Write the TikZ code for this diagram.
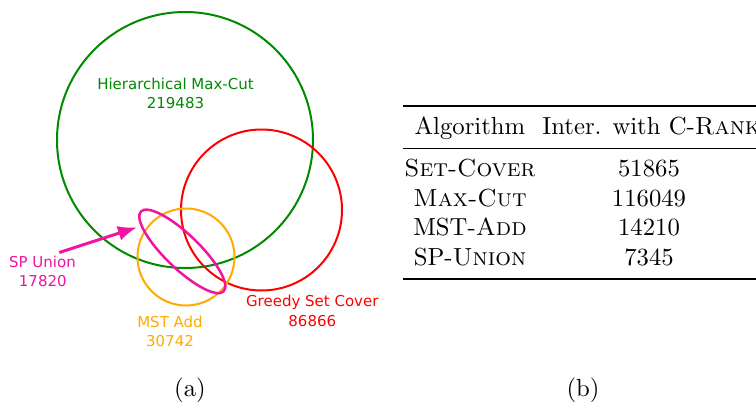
\documentclass[tikz,border=0pt]{standalone}
\usepackage{fontspec}
\newfontfamily\labfont{DejaVu Sans}
\usetikzlibrary{arrows.meta}
\definecolor{cgreen}{RGB}{0,138,0}
\definecolor{cred}{RGB}{255,0,0}
\definecolor{corange}{RGB}{255,170,0}
\definecolor{cmag}{RGB}{240,20,160}
\tikzset{
  setline/.style={line width=2pt},
  lab/.style={font=\labfont\fontsize{15}{19}\selectfont, inner sep=0pt, anchor=base},
  tab/.style={font=\fontsize{10}{12}\selectfont, scale=2.47, inner sep=0pt, anchor=base},
}
\begin{document}
\begin{tikzpicture}[x=1pt,y=-1pt]
\useasboundingbox (0,0) rectangle (756,402);
% sets
\draw[setline, cgreen] (185,140) circle (128pt);
\draw[setline, cred] (261.5,210) circle (80.5pt);
\draw[setline, corange] (186,257) circle (48.5pt);
\draw[line width=2.5pt, cmag] (182.3,251.4) ellipse [x radius=57.5pt, y radius=17pt, rotate=-44];
% labels
\node[lab, text=cgreen] (hmc1) at (175.5,89.5) {Hierarchical Max-Cut};
\node[lab, text=cgreen] (hmc2) at (175.5,108.7) {219483};
\node[lab, text=cmag] (spu1) at (42.5,267.7) {SP Union};
\node[lab, text=cmag] (spu2) at (42.8,286.7) {17820};
\node[lab, text=corange] (mst1) at (170,327.7) {MST Add};
\node[lab, text=corange] (mst2) at (170,346.3) {30742};
\node[lab, text=cred] (gsc1) at (312.3,306.5) {Greedy Set Cover};
\node[lab, text=cred] (gsc2) at (312.3,326.5) {86866};
% arrow
\coordinate (atail) at (59.3,252.5);
\coordinate (ahead) at (137,227.3);
\draw[line width=3pt, cmag, -{Latex[length=19pt,width=15pt]}] (atail) -- (ahead);
% table
\draw[line width=2pt] (403,105.5) coordinate (tl) -- (756,105.5) coordinate (tr);
\draw[line width=1.2pt] (403,148.5) coordinate (ml) -- (756,148.5) coordinate (mr);
\draw[line width=2pt] (403,279) coordinate (bl) -- (756,279) coordinate (br);
\node[tab] (h1) at (470,134.6) {Algorithm};
\node[tab, anchor=base west] (h2) at (542,134.6) {Inter. with C-\textsc{Rank}};
\node[tab] (r1a) at (470,176.6) {\textsc{Set-Cover}};
\node[tab] (r1b) at (649,176.6) {51865};
\node[tab] (r2a) at (470,206.2) {\textsc{Max-Cut}};
\node[tab] (r2b) at (649,206.2) {116049};
\node[tab] (r3a) at (470,235.8) {MST-\textsc{Add}};
\node[tab] (r3b) at (649,235.8) {14210};
\node[tab] (r4a) at (470,265.4) {SP-\textsc{Union}};
\node[tab] (r4b) at (649,265.4) {7345};
% captions
\node[tab] (capa) at (190,396) {(a)};
\node[tab] (capb) at (583,396) {(b)};
\end{tikzpicture}
\end{document}
